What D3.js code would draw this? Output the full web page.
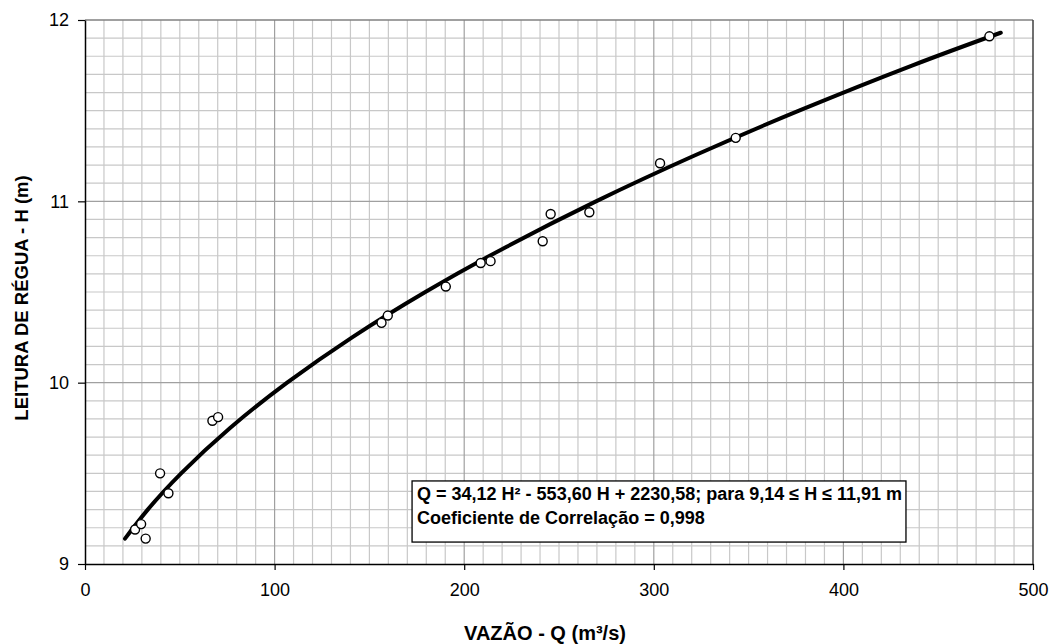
<!DOCTYPE html>
<html>
<head>
<meta charset="utf-8">
<script src="https://cdn.jsdelivr.net/npm/d3@7"></script>
<style>
  body { margin: 0; background: #fff; }
  svg { display: block; font-family: "Liberation Sans", Arial, sans-serif; }
</style>
</head>
<body>
<div id="chart"></div>
<script>
// measured points (vazão Q in m3/s, leitura H in m)
const flowQ  = [26.4, 29.6, 32.0, 39.6, 44.0, 67.2, 70.2, 156.4, 159.7, 190.3, 208.7, 213.9, 241.4, 245.6, 266.0, 303.3, 343.2, 477.0];
const stageH = [9.19, 9.22, 9.14, 9.50, 9.39, 9.79, 9.81, 10.33, 10.37, 10.53, 10.66, 10.67, 10.78, 10.93, 10.94, 11.21, 11.35, 11.91];

// rating curve
const curveQ = [21.1, 33.1, 50.7, 76.5, 106.6, 140.9, 179.5, 222.4, 269.5, 320.9, 376.6, 436.5, 483.0];
const curveH = [9.14, 9.30, 9.50, 9.75, 10.00, 10.25, 10.50, 10.75, 11.00, 11.25, 11.50, 11.75, 11.93];

const xTicks = [0, 100, 200, 300, 400, 500];
const yTicks = [9, 10, 11, 12];

const noteLines = [
    "Q = 34,12 H\u00B2 - 553,60 H + 2230,58; para 9,14 \u2264 H \u2264 11,91 m",
    "Coeficiente de Correla\u00E7\u00E3o = 0,998"
];

const width = 1049, height = 644;
const margins = { top: 20, right: 16, bottom: 80, left: 85 };

const svg = d3.select("#chart").append("svg")
    .attr("width", width)
    .attr("height", height);

const x = d3.scaleLinear().domain([0, 500]).range([margins.left, width - margins.right]);
const y = d3.scaleLinear().domain([9, 12]).range([height - margins.bottom, margins.top]);

// minor grid
const minorX = d3.range(0, 501, 10);
const minorY = d3.range(90, 121, 1).map(d => d / 10);

svg.append("g").selectAll("line")
    .data(minorX.filter(d => d % 100 !== 0))
    .join("line")
    .attr("x1", d => x(d)).attr("x2", d => x(d))
    .attr("y1", y(9)).attr("y2", y(12))
    .attr("stroke", "#c8c8c8").attr("stroke-width", 1.2);

svg.append("g").selectAll("line")
    .data(minorY.filter(d => Math.abs(d - Math.round(d)) > 1e-6))
    .join("line")
    .attr("x1", x(0)).attr("x2", x(500))
    .attr("y1", d => y(d)).attr("y2", d => y(d))
    .attr("stroke", "#c8c8c8").attr("stroke-width", 1.2);

// major grid
svg.append("g").selectAll("line")
    .data(xTicks.slice(1, -1))
    .join("line")
    .attr("x1", d => x(d)).attr("x2", d => x(d))
    .attr("y1", y(9)).attr("y2", y(12))
    .attr("stroke", "#a0a0a0").attr("stroke-width", 1.2);

svg.append("g").selectAll("line")
    .data(yTicks.slice(1, -1))
    .join("line")
    .attr("x1", x(0)).attr("x2", x(500))
    .attr("y1", d => y(d)).attr("y2", d => y(d))
    .attr("stroke", "#a0a0a0").attr("stroke-width", 1.2);

// frame top / right
svg.append("line")
    .attr("x1", x(0)).attr("x2", x(500)).attr("y1", y(12)).attr("y2", y(12))
    .attr("stroke", "#808080").attr("stroke-width", 1.5);
svg.append("line")
    .attr("x1", x(500)).attr("x2", x(500)).attr("y1", y(12)).attr("y2", y(9))
    .attr("stroke", "#404040").attr("stroke-width", 1.5);

// axes
const xAxis = svg.append("g")
    .attr("transform", `translate(0,${y(9)})`)
    .call(d3.axisBottom(x).tickValues(xTicks).tickFormat(d3.format("d"))
        .tickSize(6).tickSizeOuter(0).tickPadding(13));
const yAxis = svg.append("g")
    .attr("transform", `translate(${x(0)},0)`)
    .call(d3.axisLeft(y).tickValues(yTicks).tickFormat(d3.format("d"))
        .tickSize(7).tickSizeOuter(0).tickPadding(9));

[xAxis, yAxis].forEach(g => {
    g.select(".domain").attr("stroke", "#000").attr("stroke-width", 1.5);
    g.selectAll(".tick line").attr("stroke", "#000").attr("stroke-width", 1.2);
    g.selectAll("text")
        .attr("font-family", "Liberation Sans, Arial, sans-serif")
        .attr("font-size", "18px")
        .attr("fill", "#000");
});

// fitted curve
const line = d3.line()
    .x(d => x(d[0]))
    .y(d => y(d[1]))
    .curve(d3.curveNatural);

svg.append("path")
    .datum(curveQ.map((q, i) => [q, curveH[i]]))
    .attr("d", line)
    .attr("fill", "none")
    .attr("stroke", "#000")
    .attr("stroke-width", 4)
    .attr("stroke-linecap", "round");

// observed points
svg.append("g").selectAll("circle")
    .data(flowQ.map((q, i) => [q, stageH[i]]))
    .join("circle")
    .attr("cx", d => x(d[0]))
    .attr("cy", d => y(d[1]))
    .attr("r", 4.5)
    .attr("fill", "#fff")
    .attr("stroke", "#000")
    .attr("stroke-width", 1.4);

// equation box
const boxX = x(172.5), boxY = y(9.458);
const note = svg.append("g").attr("transform", `translate(${boxX},${boxY})`);
note.append("rect")
    .attr("width", x(433) - x(172.5))
    .attr("height", y(9.121) - y(9.458))
    .attr("fill", "#fff")
    .attr("stroke", "#000")
    .attr("stroke-width", 1.3);
note.selectAll("text")
    .data(noteLines)
    .join("text")
    .attr("x", 5)
    .attr("y", (d, i) => 19 + i * 24)
    .attr("font-size", "18px")
    .attr("font-weight", "bold")
    .attr("fill", "#000")
    .text(d => d);

// axis titles
svg.append("text")
    .attr("x", 545)
    .attr("y", 640)
    .attr("text-anchor", "middle")
    .attr("font-size", "20px")
    .attr("font-weight", "bold")
    .text("VAZ\u00C3O - Q (m\u00B3/s)");

svg.append("text")
    .attr("transform", "translate(28,298) rotate(-90)")
    .attr("text-anchor", "middle")
    .attr("font-size", "18.5px")
    .attr("font-weight", "bold")
    .text("LEITURA DE R\u00C9GUA - H (m)");
</script>
</body>
</html>
